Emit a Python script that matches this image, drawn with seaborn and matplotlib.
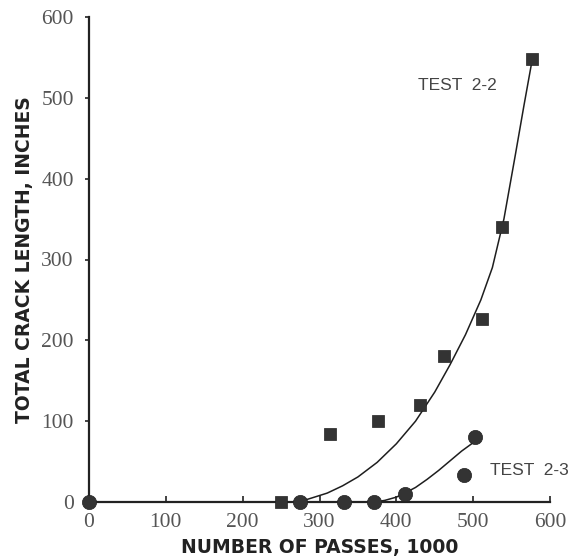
import matplotlib
matplotlib.use("Agg")
import matplotlib.pyplot as plt
import seaborn as sns

# Data
t22_x = [250, 314, 376, 431, 462, 512, 538, 577]
t22_y = [0, 84, 100, 120, 181, 226, 340, 548]
t23_x = [0, 274, 332, 371, 411, 488, 503]
t23_y = [0, 0, 0, 0, 10, 34, 81]

# fitted curves
c22_x = [273, 290, 310, 330, 350, 375, 400, 425, 450, 470, 490, 510, 525, 540, 555, 566, 577]
c22_y = [0, 5, 11, 20, 31, 49, 72, 100, 136, 170, 207, 250, 290, 350, 430, 490, 548]
c23_x = [372, 385, 400, 411, 425, 440, 455, 470, 485, 498, 508]
c23_y = [0, 2, 6, 11, 18, 28, 39, 51, 63, 72, 78]

xticks = [0, 100, 200, 300, 400, 500, 600]
yticks = [0, 100, 200, 300, 400, 500, 600]

sns.set_theme(style="white")
plt.rcParams['font.family'] = ['DejaVu Sans']

fig = plt.figure(figsize=(5.76, 5.6), dpi=100)
ax = fig.add_axes([89/576, 1-502/560, (550-89)/576, (502-17)/560])

ink = "#333333"
line = "#1e1e1e"
sns.lineplot(x=c22_x, y=c22_y, ax=ax, color=line, lw=1.1, sort=False)
sns.lineplot(x=c23_x, y=c23_y, ax=ax, color=line, lw=1.1, sort=False)

sns.scatterplot(x=t22_x, y=t22_y, ax=ax, marker="s", s=68, color=ink,
                edgecolor="#222222", linewidth=0.5, clip_on=False, zorder=5)
sns.scatterplot(x=t23_x, y=t23_y, ax=ax, marker="o", s=105, color=ink,
                edgecolor="#222222", linewidth=0.5, clip_on=False, zorder=5)

ax.set_xlim(0, 600)
ax.set_ylim(0, 600)
ax.set_xticks(xticks)
ax.set_yticks(yticks)
tickfont = dict(family="Liberation Serif", size=15.5, color="#555555")
ax.set_xticklabels([str(v) for v in xticks], **tickfont)
ax.set_yticklabels([str(v) for v in yticks], **tickfont)

for s in ["top", "right"]:
    ax.spines[s].set_visible(False)
for s in ["left", "bottom"]:
    ax.spines[s].set_color("#222222")
    ax.spines[s].set_linewidth(1.6)

ax.tick_params(axis="x", direction="in", length=4, width=1.2, color="#222222", pad=8)
ax.tick_params(axis="y", direction="out", length=3, width=1.2, color="#222222", pad=8)
ax.tick_params(left=True, bottom=True)

labfont = dict(family="DejaVu Sans", weight="bold", size=13.5, color="#222222")
ax.set_xlabel("NUMBER OF PASSES, 1000", labelpad=4, **labfont)
ax.set_ylabel("TOTAL CRACK LENGTH, INCHES", labelpad=5, **labfont)

testfont = dict(family="Liberation Sans", size=12.5,
                color="#444444", va="center", ha="left")
ax.text(428, 515, "TEST  2-2", **testfont)
ax.text(522, 39, "TEST  2-3", **testfont)

fig.savefig("out.png", dpi=100)
